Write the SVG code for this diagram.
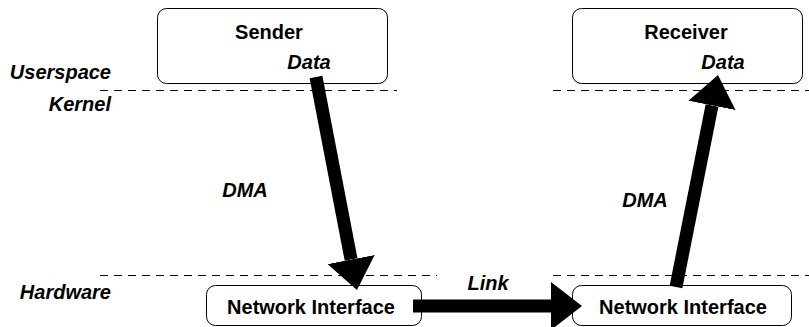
<svg xmlns="http://www.w3.org/2000/svg" width="809" height="327" viewBox="0 0 809 327">
  <style>
    .box { fill: #fff; stroke: #000; stroke-width: 1; }
    .lbl { font-family: "Liberation Sans", Arial, sans-serif; font-weight: bold; font-size: 20px; fill: #000; }
    .it { font-style: italic; }
    .dash { stroke: #000; stroke-width: 1; stroke-dasharray: 8 6; fill: none; }
    .arrow { stroke: #000; stroke-width: 13; fill: none; marker-end: url(#head); }
  </style>
  <defs>
    <marker id="head" viewBox="0 0 31 48" markerWidth="31" markerHeight="48" refX="0" refY="24" markerUnits="userSpaceOnUse" orient="auto">
      <path d="M0,0 L31,24 L0,48 Z" fill="#000"/>
    </marker>
  </defs>

  <g id="layers">
    <line class="dash" x1="100" y1="90.5" x2="397" y2="90.5"/>
    <line class="dash" x1="553" y1="90.5" x2="809" y2="90.5"/>
    <line class="dash" x1="100" y1="275.5" x2="437" y2="275.5"/>
    <line class="dash" x1="553" y1="275.5" x2="809" y2="275.5"/>
    <text class="lbl it" x="111" y="79" text-anchor="end">Userspace</text>
    <text class="lbl it" x="111" y="111" text-anchor="end">Kernel</text>
    <text class="lbl it" x="111" y="299" text-anchor="end">Hardware</text>
  </g>

  <g id="sender">
    <rect class="box" x="157.5" y="8.5" width="230" height="75" rx="9"/>
    <text class="lbl" x="269" y="39" text-anchor="middle">Sender</text>
    <text class="lbl it" x="309" y="69" text-anchor="middle">Data</text>
  </g>

  <g id="receiver">
    <rect class="box" x="572.5" y="8.5" width="230" height="75" rx="9"/>
    <text class="lbl" x="686" y="39" text-anchor="middle">Receiver</text>
    <text class="lbl it" x="723" y="69" text-anchor="middle">Data</text>
  </g>

  <g id="nic-sender">
    <rect class="box" x="206.5" y="285.5" width="215" height="40" rx="9"/>
    <text class="lbl" x="311" y="314" text-anchor="middle">Network Interface</text>
  </g>

  <g id="nic-receiver">
    <rect class="box" x="572.5" y="285.5" width="219" height="40" rx="9"/>
    <text class="lbl" x="683" y="314" text-anchor="middle">Network Interface</text>
  </g>

  <g id="connectors">
    <line class="arrow" x1="316" y1="77" x2="351.1" y2="259.6"/>
    <line class="arrow" x1="413" y1="306" x2="551" y2="306"/>
    <line class="arrow" x1="676" y1="287" x2="712" y2="105.4"/>
    <text class="lbl it" x="245" y="197" text-anchor="middle">DMA</text>
    <text class="lbl it" x="488" y="290" text-anchor="middle">Link</text>
    <text class="lbl it" x="645" y="207" text-anchor="middle">DMA</text>
  </g>
</svg>
